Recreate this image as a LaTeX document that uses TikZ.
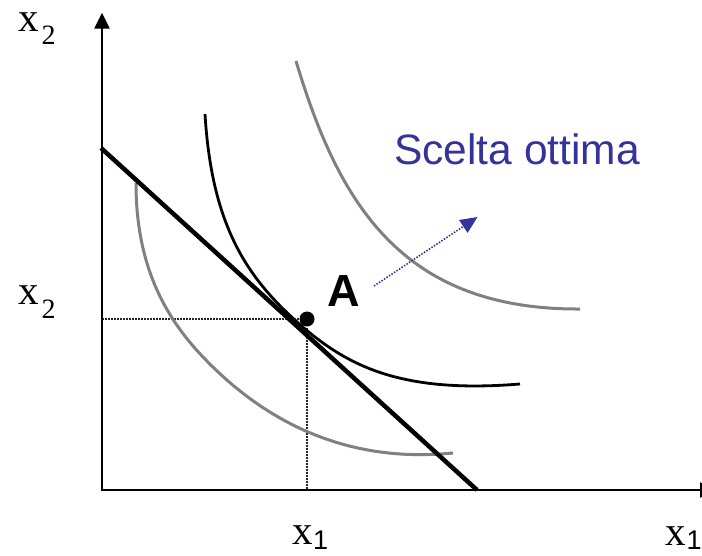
\documentclass[tikz,border=0pt]{standalone}
\usepackage{fontspec}
\setmainfont{Liberation Serif}
\newfontfamily\arialf{Liberation Sans}
\usetikzlibrary{arrows.meta}
\definecolor{curvegray}{RGB}{128,128,128}
\definecolor{optblue}{RGB}{51,51,153}
\tikzset{
  axis/.style={line width=2.4pt, -{Triangle[length=16pt,width=15pt]}},
  budget/.style={line width=4.5pt},
  indiff/.style={line width=2.8pt, black},
  other/.style={line width=3pt, curvegray},
  guide/.style={line width=1.5pt, black!85, dash pattern=on 1.5pt off 1.5pt},
  optarrow/.style={line width=1.6pt, optblue, dash pattern=on 1.5pt off 1.5pt, -{Triangle[length=17pt,width=15pt]}},
  lbl/.style={inner sep=0pt, anchor=base west},
  bigx/.style={lbl, font=\fontsize{41}{41}\selectfont},
  subs/.style={lbl, font=\fontsize{28}{28}\selectfont},
  subsans/.style={lbl, font=\arialf\fontsize{27}{27}\selectfont},
}
\begin{document}
\begin{tikzpicture}[x=1pt, y=-1pt]
\useasboundingbox (0,0) rectangle (702,556);
\clip (0,0) rectangle (702,556);
% coordinates
\coordinate (O) at (102,490);
\coordinate (ytop) at (102,12.7);
\coordinate (xstart) at (100.8,490);
\coordinate (xend) at (716,490);
\coordinate (bl1) at (101,148);
\coordinate (bl2) at (477,490);
\coordinate (Apt) at (307,319);
\coordinate (ax2) at (102,319);
\coordinate (ax1) at (307,490);
\coordinate (arrS) at (374,286);
\coordinate (arrE) at (477.5,217);
% guides
\draw[guide] (ax2) -- (Apt);
\draw[guide] (Apt) -- (ax1);
% axes
\draw[axis] (O) -- (ytop);
\draw[axis] (xstart) -- (xend);
% indifference curves
\draw[other] (136,183) .. controls (136,263) and (163,315) .. (203,357)
                       .. controls (253,409.5) and (333,465) .. (453,453);
\draw[other] (296,61) .. controls (338,201) and (400,310) .. (580,309);
\draw[indiff] (205,114) .. controls (211.6,224) and (246,276) .. (296,321)
                        .. controls (346,366) and (400,393.8) .. (520,384);
% budget line
\draw[budget] (bl1) -- (bl2);
% point A
\node[circle, fill=black, inner sep=0pt, minimum size=15pt] (A) at (Apt) {};
% arrow
\draw[optarrow] (arrS) -- (arrE);
% labels
\node[bigx] (x2a) at (18.5,32) {x};
\node[subs] (x2as) at (41.5,45) {2};
\node[bigx] (x2b) at (18,305) {x};
\node[subs] (x2bs) at (41.5,318.5) {2};
\node[bigx] (x1a) at (292,544.5) {x};
\node[subsans] (x1as) at (313,549) {1};
\node[bigx] (x1b) at (665.5,545) {x};
\node[subsans] (x1bs) at (686.5,549) {1};
\node[lbl, font=\arialf\bfseries\fontsize{45}{45}\selectfont] (Alab) at (327,306) {A};
\node[lbl, font=\arialf\fontsize{42.5}{42.5}\selectfont, text=optblue] (scelta) at (394,165) {Scelta ottima};
\end{tikzpicture}
\end{document}
